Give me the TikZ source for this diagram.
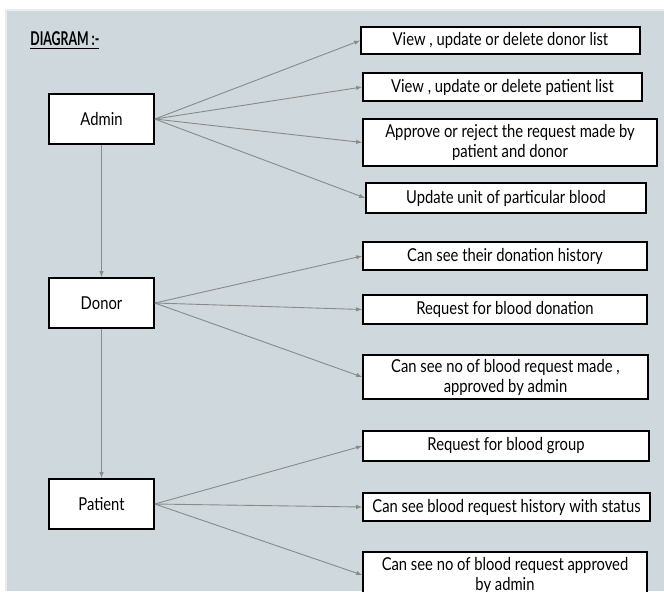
\documentclass[tikz,border=0pt]{standalone}
\usepackage{fontspec}
\setmainfont{Lato}[FakeStretch=0.83]
\usetikzlibrary{arrows.meta}
\definecolor{panel}{HTML}{CFD8DC}
\definecolor{wire}{HTML}{8A8A8A}

\begin{document}
\begin{tikzpicture}[x=0.5pt,y=-0.5pt]
\useasboundingbox (0,0) rectangle (664,591);
\fill [panel] (6,10) rectangle (664,591);
\draw [color=white!55!panel,line width=1pt] (6,591) -- (6,10) -- (664,10);
\node [anchor=base west,inner sep=0pt,font=\fontsize{9.5}{11}\selectfont] at (30,45) (title) {\underline{\scalebox{0.78}[1]{\textbf{DIAGRAM :-}}}};
  \begin{scope}[every node/.style={draw,fill=white,line width=0.8pt,align=center,inner sep=1pt,font=\fontsize{8.9}{10}\selectfont}]
    \node [minimum width=52.5pt,minimum height=25pt] at (101.5,119) (admin) {Admin};
    \node [minimum width=52.5pt,minimum height=25pt] at (101.5,303) (donor) {Donor};
    \node [minimum width=52.5pt,minimum height=25pt] at (101.5,504) (patient) {Patient};

    \node [minimum width=139.5pt,minimum height=13.5pt] at (500.5,40.5) (donorlist) {View , update or delete donor list};
    \node [minimum width=139.5pt,minimum height=14pt] at (502.5,87) (patientlist) {View , update or delete patient list};
    \node [minimum width=147pt,minimum height=23.5pt] at (510,142.5) (approve) {Approve or reject the request made by\\patient and donor};
    \node [minimum width=140pt,minimum height=15pt] at (506,198) (unit) {Update unit of particular blood};

    \node [minimum width=142pt,minimum height=14pt] at (505,256) (history) {Can see their donation history};
    \node [minimum width=142pt,minimum height=14.5pt] at (505,309.5) (donation) {Request for blood donation};
    \node [minimum width=142.5pt,minimum height=22pt] at (505.5,377) (made) {Can see no of blood request made ,\\approved by admin};

    \node [minimum width=143pt,minimum height=15pt] at (506,446) (group) {Request for blood group};
    \node [minimum width=143.5pt,minimum height=14pt] at (506.5,507) (status) {Can see blood request history with status};
    \node [minimum width=142pt,minimum height=23pt] at (505,575) (approved) {Can see no of blood request approved\\by admin};
  \end{scope}

  \begin{scope}[every path/.style={draw=wire,line width=0.45pt,-{Latex[length=3pt,width=2.2pt]}}]
    \path (admin.east) -- (donorlist.west);
    \path (admin.east) -- (patientlist.west);
    \path (admin.east) -- (approve.west);
    \path (admin.east) -- (unit.west);
    \path (admin.south) -- (donor.north);
    \path (donor.east) -- (history.west);
    \path (donor.east) -- (donation.west);
    \path (donor.east) -- (made.west);
    \path (donor.south) -- (patient.north);
    \path (patient.east) -- (group.west);
    \path (patient.east) -- (status.west);
    \path (patient.east) -- (approved.west);
  \end{scope}
\end{tikzpicture}
\end{document}
